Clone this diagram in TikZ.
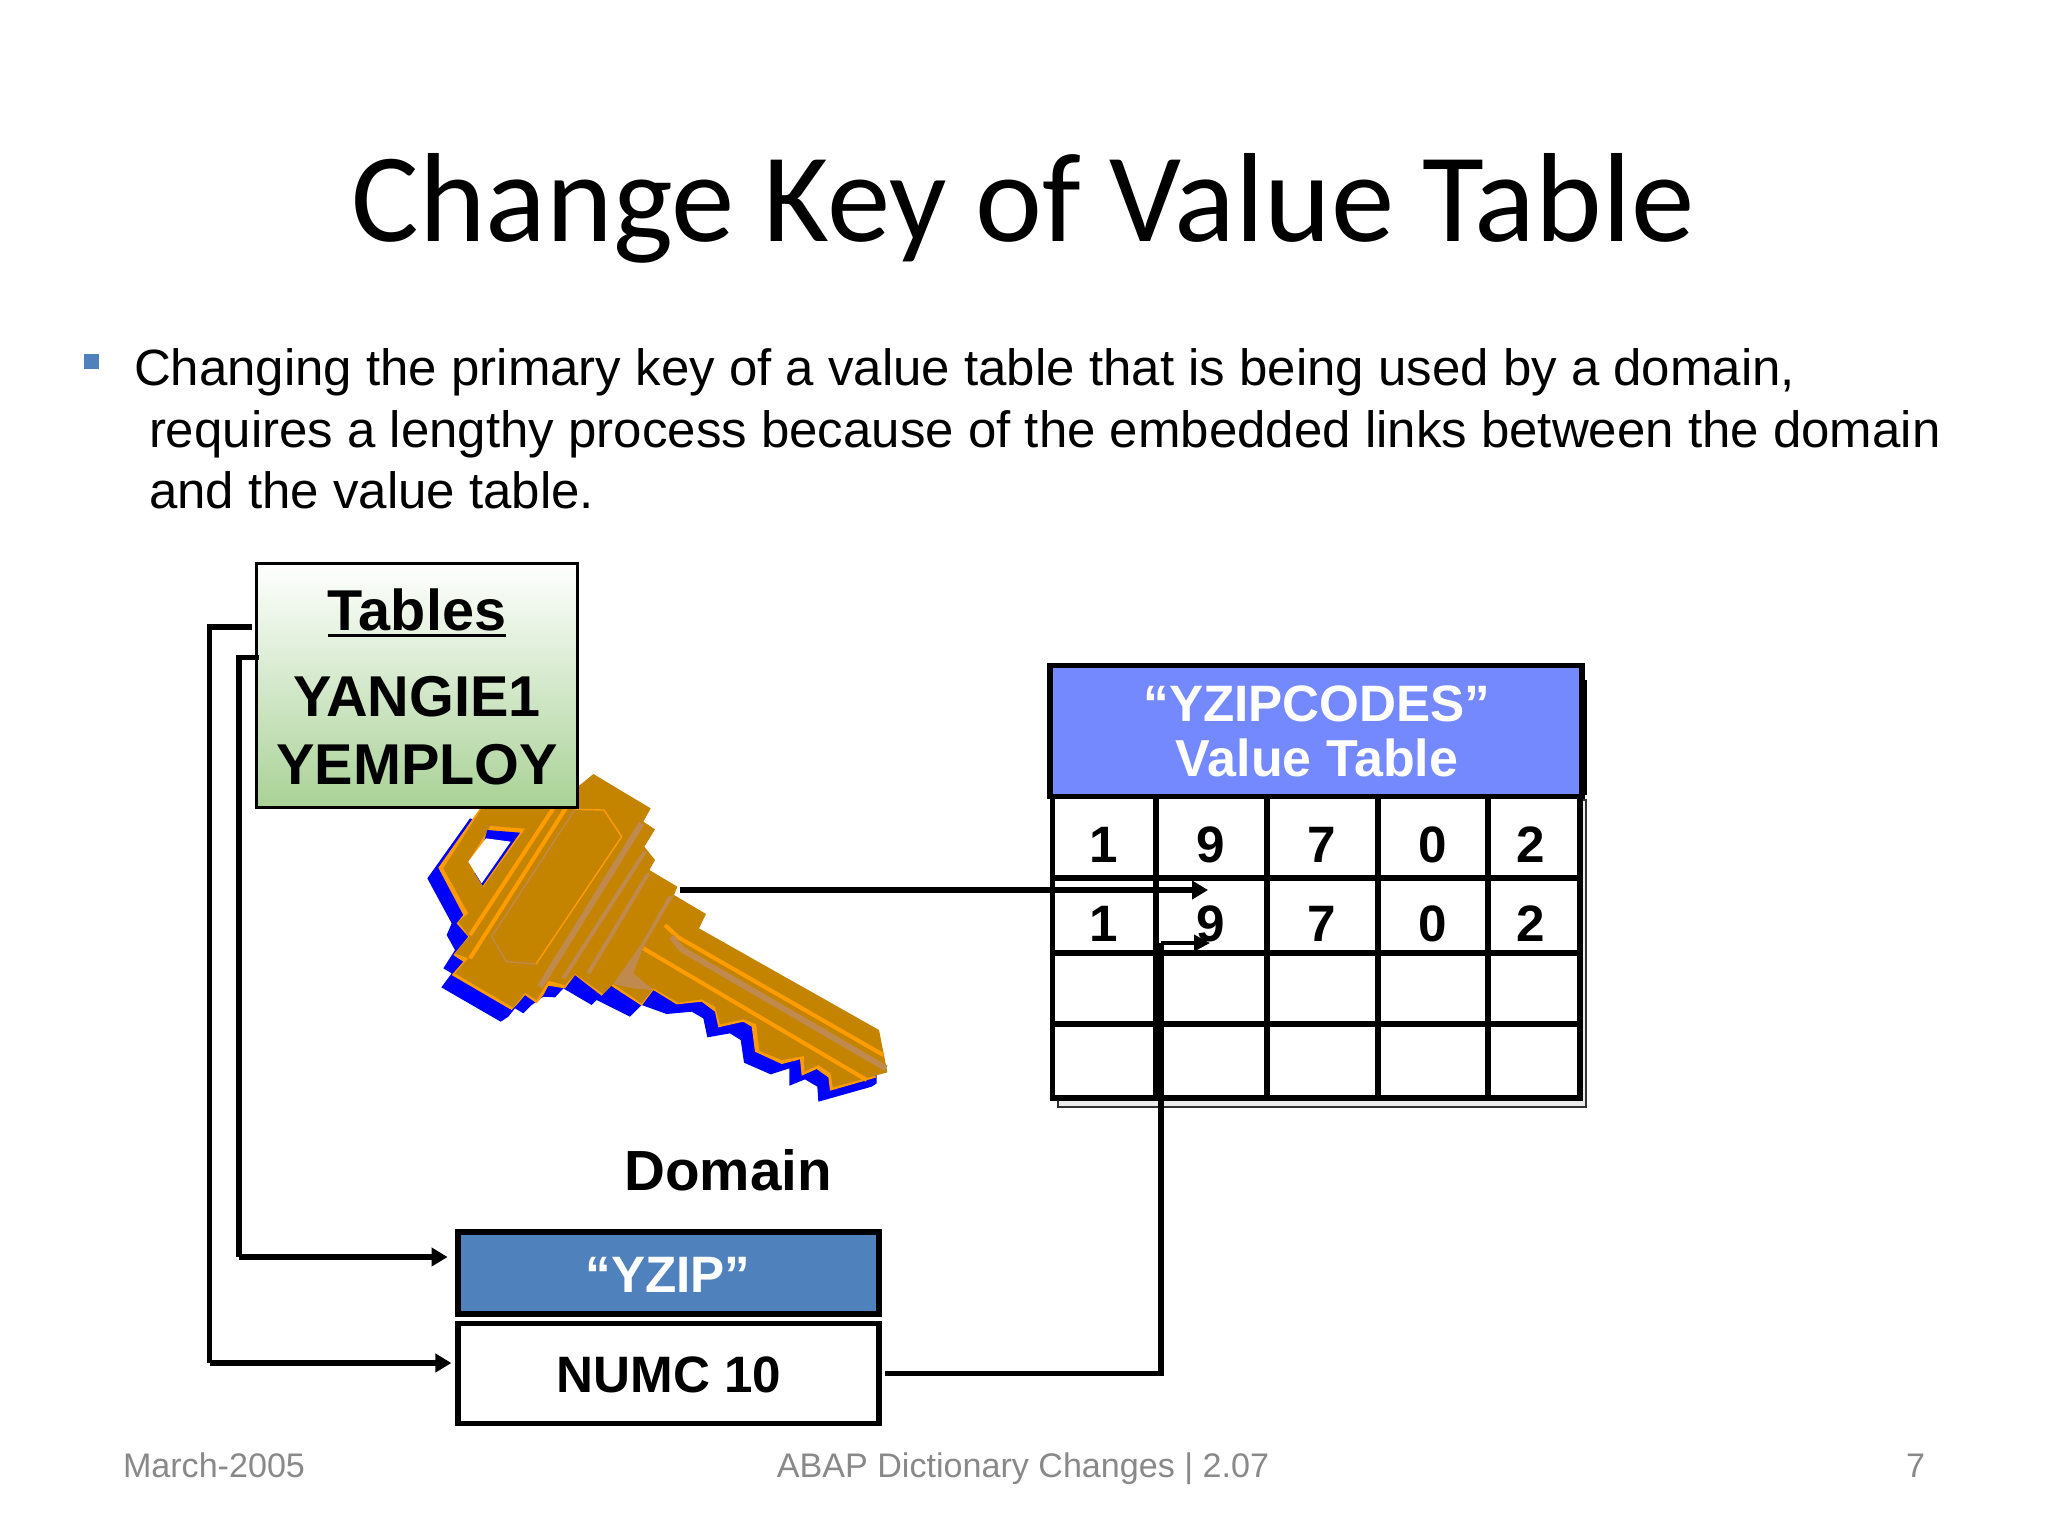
\documentclass[tikz,border=0pt]{standalone}
\usepackage{fontspec}
\setmainfont{Liberation Sans}
\newfontfamily\titlefont{Carlito}
\usetikzlibrary{arrows.meta}
\definecolor{keybrown}{HTML}{C48400}
\definecolor{keyorange}{HTML}{FF9C00}
\definecolor{keytan}{HTML}{C08A4E}
\definecolor{hdrblue}{HTML}{7589FF}
\definecolor{zipblue}{HTML}{4F81BD}
\definecolor{tblgreen}{HTML}{A9D296}
\definecolor{footgray}{HTML}{898989}
\newcommand{\fs}[1]{\fontsize{#1pt}{#1pt}\selectfont}
\tikzset{
  txt/.style={inner sep=0pt,outer sep=0pt,anchor=base},
  btxt/.style={txt,font=\fs{28.8}\bfseries},
  digit/.style={txt,font=\fs{25.6}\bfseries},
  hdrtxt/.style={txt,font=\fs{25.6}\bfseries,text=white},
  bodytxt/.style={txt,anchor=base west,font=\fs{25.5}},
  foot/.style={txt,font=\fs{17.05},text=footgray},
  box/.style={draw=black,line width=2.6pt,inner sep=0pt,outer sep=0pt},
  conn/.style={draw=black,line width=2.9pt,line cap=butt,miter limit=10},
  big/.style={-{Triangle[length=8pt,width=9pt]}},
  small/.style={-{Triangle[length=8pt,width=8pt]}},
  gridline/.style={draw=black,line width=2.6pt},
}
\begin{document}
\begin{tikzpicture}[x=0.5pt,y=-0.5pt]
\useasboundingbox (0,0) rectangle (2048,1536);
\fill[white] (0,0) rectangle (2048,1536);
% title and body
\node[txt,font=\titlefont\fs{63.4}] (title) at (1023,241) {Change Key of Value Table};
\fill[zipblue] (84,354) rectangle (99,369);
\node[bodytxt] (b1) at (134,385) {Changing the primary key of a value table that is being used by a domain,};
\node[bodytxt] (b2) at (149,447) {requires a lengthy process because of the embedded links between the domain};
\node[bodytxt] (b3) at (149,508) {and the value table.};
% key
\begin{scope}[shift={(400,740)},x=0.16667pt,y=-0.16667pt]
\fill[blue] (210,235)--(82,415)--(155,550)--(140,585)--(165,630)--(130,685)--(155,700)--(124,742)--(302,845)--(325,830)--(345,805)--(370,820)--(395,795)--(430,770)--(465,772)--(490,745)--(575,795)--(590,780)--(690,830)--(725,795)--(800,822)--(875,815)--(910,835)--(922,892)--(990,880)--(1022,900)--(1032,968)--(1112,1003)--(1168,985)--(1168,1037)--(1215,1018)--(1252,1040)--(1255,1085)--(1415,1040)--(1430,1030)--(1430,1000)--(700,600)--(400,300)--cycle;
\fill[keyorange] (240,205)--(115,383)--(190,525)--(170,550)--(205,590)--(160,645)--(190,665)--(155,705)--(335,810)--(350,795)--(375,765)--(410,790)--(430,765)--(445,737)--(495,745)--(525,705)--(605,767)--(630,735)--(725,797)--(760,750)--(830,793)--(905,785)--(945,815)--(955,862)--(1030,845)--(1055,860)--(1065,935)--(1145,972)--(1200,958)--(1205,1007)--(1250,987)--(1285,1012)--(1290,1052)--(1430,1012)--(1300,900)--(700,500)--cycle;
\fill[keybrown] (245,205)--(540,135)--(580,102)--(752,205)--(730,245)--(765,268)--(733,320)--(765,360)--(748,390)--(832,440)--(822,465)--(918,522)--(897,565)--(1437,870)--(1462,997)--(1298,1042)--(1292,1000)--(1255,975)--(1213,995)--(1212,948)--(1145,960)--(1078,932)--(1068,852)--(1030,838)--(960,853)--(945,800)--(905,778)--(835,788)--(760,745)--(725,790)--(640,732)--(610,762)--(525,702)--(495,735)--(445,722)--(410,780)--(375,758)--(340,803)--(165,700)--(205,655)--(165,640)--(208,590)--(175,545)--(205,520)--(130,385)--cycle;
\fill[keyorange] (272,258)--(375,266)--(250,440)--(205,365)--cycle;
\fill[blue] (262,270)--(360,278)--(248,437)--(225,400)--cycle;
\fill[white] (205,365)--(258,295)--(332,305)--(245,430)--cycle;
\draw[keyorange,line width=2pt] (460,205)--(210,585);
\draw[keyorange,line width=2pt] (497,205)--(210,655);
\draw[keyorange,line width=0.7pt] (525,208)--(612,210)--(665,290)--(408,672);
\draw[keytan,line width=0.7pt] (525,208)--(275,590)--(320,665)--(408,672);
\draw[keytan,line width=3pt] (725,250)--(420,740);
\draw[keytan,line width=2pt] (735,335)--(490,715);
\draw[keytan,line width=2pt] (745,400)--(565,700);
\fill[keytan] (822,465)--(805,470)--(722,615)--(640,732)--(700,745)--(760,750)--(700,700)--(730,620)--cycle;
\draw[keyorange,line width=2pt] (795,555)--(835,592)--(1450,945);
\draw[keyorange,line width=2pt] (730,625)--(1400,1020);
\draw[keytan,line width=3pt] (815,590)--(845,628)--(1458,985);
\end{scope}
% tables box
\node[box,line width=1.5pt,minimum width=160.5pt,minimum height=122pt,top color=white,bottom color=tblgreen,shading angle=0] (tables) at (416.5,685) {};
\node[btxt] (tlabel) at (417,630) {Tables};
\draw[line width=1.6pt] ([yshift=-2.6pt]tlabel.base west) -- ([yshift=-2.6pt]tlabel.base east);
\node[btxt] (yangie) at (417,716) {YANGIE1};
\node[btxt] (yemploy) at (417,784) {YEMPLOY};
% value table
\filldraw[fill=gray!15,draw=black!80,line width=1pt] (1058,800) rectangle (1586,1107);
\fill[white] (1052,798) rectangle (1580,1099);
\foreach \x in {1052.5,1156,1267,1378,1488,1580} \draw[gridline] (\x,796) -- (\x,1100.6);
\foreach \y in {878,953,1024,1098} \draw[gridline] (1051,\y) -- (1582,\y);
\node[box,fill=hdrblue,minimum width=266pt,minimum height=65.5pt] (hdr) at (1316,731) {};
\fill[black] (1584,680) rectangle (1587,795);
\node[hdrtxt] (h1) at (1317,721) {“YZIPCODES”};
\node[hdrtxt,font=\fs{26}\bfseries] (h2) at (1317,776) {Value Table};
\node[digit] (d11) at (1104,862) {1};
\node[digit] (d12) at (1211,862) {9};
\node[digit] (d13) at (1322,862) {7};
\node[digit] (d14) at (1433,862) {0};
\node[digit] (d15) at (1531,862) {2};
\node[digit] (d21) at (1104,941.5) {1};
\node[digit] (d22) at (1211,941.5) {9};
\node[digit] (d23) at (1322,941.5) {7};
\node[digit] (d24) at (1433,941.5) {0};
\node[digit] (d25) at (1531,941.5) {2};
% domain
\node[btxt,font=\fs{28.3}\bfseries] (domain) at (728,1190) {Domain};
\node[box,fill=zipblue,minimum width=210.5pt,minimum height=41pt] (yzip) at (668.5,1273) {};
\node[hdrtxt] (yziptxt) at (668,1292) {“YZIP”};
\node[box,fill=white,minimum width=210.5pt,minimum height=50pt] (numc) at (668.5,1373.5) {};
\node[digit] (numctxt) at (669,1392) {NUMC 10};
% connectors
\coordinate (keyend) at (680,890);
\coordinate (keytip) at (1208,890);
\coordinate (vend) at (1210,943);
\coordinate (vbend) at (1161,1373.5);
\coordinate (outerb) at (209.5,627);
\coordinate (innerb) at (239,657.5);
\coordinate (outere) at (239,1363);
\coordinate (innere) at (239,1257);
\draw[conn,big] (keyend) -- (keytip);
\draw[conn,shorten <=3pt] (numc.east) -- (vbend) -- (vbend |- vend);
\draw[draw=black,line width=1.8pt,small] (vbend |- vend) -- (vend);
\draw[conn,shorten <=2pt] (tables.west |- outerb) -- (outerb) -- (outerb |- outere);
\draw[conn,big,shorten >=3.3pt] (outerb |- outere) -- (yzip.west |- outere);
\draw[conn,shorten <=-1.5pt] (tables.west |- innerb) -- (innerb) -- (innere);
\draw[conn,big,shorten >=5.2pt] (innere) -- (yzip.west |- innere);
% footer
\node[foot,anchor=base west] (f1) at (123,1477) {March-2005};
\node[foot] (f2) at (1023,1477) {ABAP Dictionary Changes | 2.07};
\node[foot,anchor=base east] (f3) at (1925,1477) {7};
\end{tikzpicture}
\end{document}
